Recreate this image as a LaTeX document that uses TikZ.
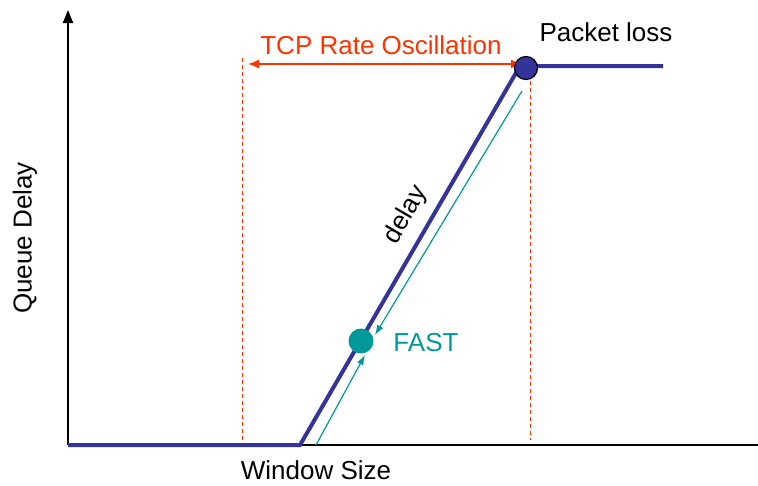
\documentclass[tikz,border=0pt]{standalone}
\usepackage{fontspec}
\setmainfont{Liberation Sans}
\usetikzlibrary{arrows.meta}
\definecolor{qblue}{HTML}{333399}
\definecolor{qteal}{HTML}{009999}
\definecolor{qred}{HTML}{FF3300}
\tikzset{
  lbl/.style={font=\fontsize{26}{28}\selectfont, inner sep=0pt},
  axis/.style={line width=2pt, black},
  curve/.style={line width=4pt, qblue, line join=miter},
  guide/.style={qred, line width=0.8pt, dash pattern=on 4pt off 3pt},
  fastarrow/.style={qteal, line width=1.2pt, -{Latex[length=10pt,width=7pt]}},
}
\begin{document}
\begin{tikzpicture}[x=1pt,y=-1pt]
\useasboundingbox (0,0) rectangle (758,485);
\coordinate (O) at (68,445);
\coordinate (Ytop) at (68,10);
\coordinate (Xend) at (758,445);
\draw[axis,-{Triangle[length=13pt,width=10pt]}] (O) -- (Ytop);
\draw[axis] (O) -- (Xend);
% guides
\coordinate (g1t) at (242,58);
\coordinate (g1b) at (242,445);
\coordinate (g2t) at (530,74);
\coordinate (g2b) at (530,440);
\draw[guide] (g1t) -- (g1b);
\draw[guide] (g2t) -- (g2b);
% curve
\coordinate (c1) at (300,445);
\coordinate (c2) at (520,66);
\coordinate (c3) at (663,66);
\draw[curve] (O) -- (c1) -- (c2) -- (c3);
% oscillation arrow
\coordinate (rL) at (248,64);
\coordinate (rR) at (522,64);
\draw[qred, line width=1.5pt, {Latex[length=11pt,width=9pt]}-{Latex[length=11pt,width=9pt]}] (rL) -- (rR);
\node[lbl, text=qred] (osc) at (381,45) {TCP Rate Oscillation};
% packet loss circle
\node[circle, fill=qblue, draw=black, line width=1.2pt, minimum size=23pt, inner sep=0pt] (loss) at (526,68) {};
\node[lbl] (plabel) at (606,32) {Packet loss};
% FAST
\node[circle, fill=qteal, minimum size=25pt, inner sep=0pt] (fast) at (361,341) {};
\node[lbl, text=qteal] (flabel) at (426,343) {FAST};
\coordinate (a1s) at (316,445);
\coordinate (a1e) at (365,355);
\coordinate (a2s) at (522,91);
\coordinate (a2e) at (375,335);
\draw[fastarrow] (a1s) -- (a1e);
\draw[fastarrow] (a2s) -- (a2e);
% labels
\node[lbl, rotate=59.7] (dl) at (406,215) {delay};
\node[lbl, rotate=90] (ylab) at (25,238) {Queue Delay};
\node[lbl] (xlab) at (316,470) {Window Size};
\end{tikzpicture}
\end{document}
